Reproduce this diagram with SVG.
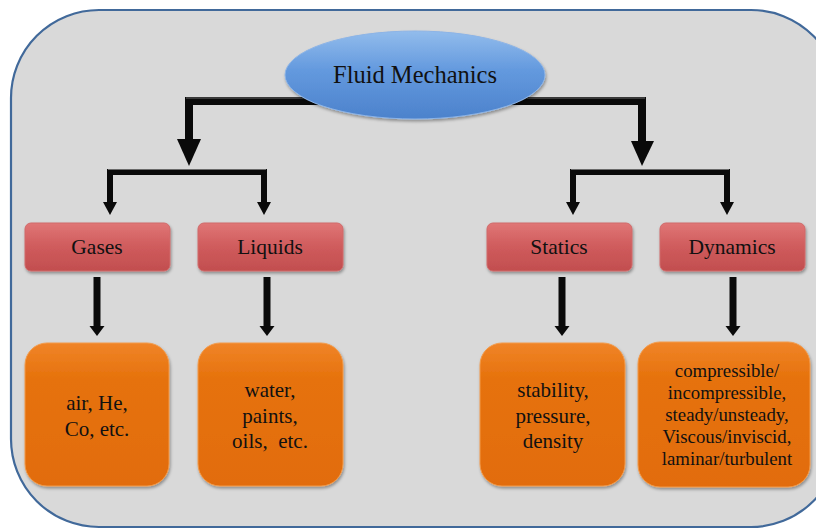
<svg xmlns="http://www.w3.org/2000/svg" width="816" height="530" viewBox="0 0 816 530">
<defs>
<linearGradient id="gBlue" x1="0" y1="0" x2="0" y2="1">
<stop offset="0" stop-color="#92bcec"/>
<stop offset="0.45" stop-color="#6399de"/>
<stop offset="1" stop-color="#4c82cc"/>
</linearGradient>
<linearGradient id="gRed" x1="0" y1="0" x2="0" y2="1">
<stop offset="0" stop-color="#e07676"/>
<stop offset="0.5" stop-color="#cf5b5c"/>
<stop offset="1" stop-color="#c24e4f"/>
</linearGradient>
<linearGradient id="gOrange" x1="0" y1="0" x2="0" y2="1">
<stop offset="0" stop-color="#f08428"/>
<stop offset="0.25" stop-color="#e6720c"/>
<stop offset="1" stop-color="#e26c0a"/>
</linearGradient>
<filter id="shadow" x="-10%" y="-10%" width="120%" height="130%">
<feDropShadow dx="1" dy="2" stdDeviation="1.5" flood-color="#000" flood-opacity="0.35"/>
</filter>
</defs>
<style>
.lbl{font-family:"Liberation Serif","Times New Roman",serif;fill:#111;text-anchor:middle;white-space:pre}
.red{fill:url(#gRed);stroke:#d06a6a;stroke-width:1;filter:url(#shadow)}
.org{fill:url(#gOrange);stroke:#f29a4a;stroke-width:1;filter:url(#shadow)}
.ln{fill:none;stroke:#0a0a0a;stroke-linejoin:miter}
.hl{fill:none;stroke:#6a6a6a;stroke-width:1.2}
.hd{fill:#0a0a0a}
</style>
<rect x="11" y="10" width="828" height="517" rx="88" ry="88" fill="#d9d9d9" stroke="#41699a" stroke-width="2.2"/>

<g id="connectors">
<path class="ln" stroke-width="8" d="M189,142 V101 H642 V144"/>
<path class="hl" d="M186,98 H645"/>
<polygon class="hd" points="177,139 201,139 189,166"/>
<polygon class="hd" points="631,141 654,141 642,166"/>
<path class="ln" stroke-width="6" d="M110,204 V172 H264 V204"/>
<path class="hl" d="M108,169.5 H266"/>
<path class="ln" stroke-width="6" d="M573,204 V172 H727 V204"/>
<path class="hl" d="M571,169.5 H729"/>
<polygon class="hd" points="103,202 117,202 110,215"/>
<polygon class="hd" points="257,202 271,202 264,215"/>
<polygon class="hd" points="566,202 580,202 573,215"/>
<polygon class="hd" points="720,202 734,202 727,215"/>
<path class="ln" stroke-width="7" d="M97,277 V329"/>
<path class="ln" stroke-width="7" d="M267,277 V329"/>
<path class="ln" stroke-width="7" d="M562,277 V329"/>
<path class="ln" stroke-width="7" d="M733,277 V329"/>
<polygon class="hd" points="89.5,326 104.5,326 97,336"/>
<polygon class="hd" points="259.5,326 274.5,326 267,336"/>
<polygon class="hd" points="554.5,326 569.5,326 562,336"/>
<polygon class="hd" points="725.5,326 740.5,326 733,336"/>
</g>

<g id="fluid-mechanics">
<ellipse cx="415" cy="75" rx="130" ry="44" fill="url(#gBlue)" stroke="#8db4e6" stroke-width="1" filter="url(#shadow)"/>
<text class="lbl" x="415" y="83" font-size="24.5">Fluid Mechanics</text>
</g>

<g id="gases">
<rect class="red" x="25" y="223" width="145" height="48" rx="6"/>
<text class="lbl" x="97" y="254" font-size="21.5">Gases</text>
</g>
<g id="liquids">
<rect class="red" x="198" y="223" width="145" height="48" rx="6"/>
<text class="lbl" x="270" y="254" font-size="21.5">Liquids</text>
</g>
<g id="statics">
<rect class="red" x="487" y="223" width="145" height="48" rx="6"/>
<text class="lbl" x="559" y="254" font-size="21.5">Statics</text>
</g>
<g id="dynamics">
<rect class="red" x="660" y="223" width="145" height="48" rx="6"/>
<text class="lbl" x="732" y="254" font-size="21.5">Dynamics</text>
</g>

<g id="gases-examples">
<rect class="org" x="25" y="343" width="144" height="143" rx="22"/>
<text class="lbl" x="97" y="410" font-size="21">air, He,</text>
<text class="lbl" x="97" y="436" font-size="21">Co, etc.</text>
</g>
<g id="liquids-examples">
<rect class="org" x="198" y="343" width="145" height="143" rx="22"/>
<text class="lbl" x="270" y="397" font-size="21">water,</text>
<text class="lbl" x="270" y="423" font-size="21">paints,</text>
<text class="lbl" x="270" y="448" font-size="21">oils,  etc.</text>
</g>
<g id="statics-examples">
<rect class="org" x="480" y="343" width="145" height="143" rx="22"/>
<text class="lbl" x="553" y="397" font-size="21">stability,</text>
<text class="lbl" x="553" y="423" font-size="21">pressure,</text>
<text class="lbl" x="553" y="448" font-size="21">density</text>
</g>
<g id="dynamics-examples">
<rect class="org" x="638" y="342" width="172" height="145" rx="22"/>
<text class="lbl" x="727" y="377" font-size="18.8">compressible/</text>
<text class="lbl" x="727" y="399" font-size="18.8">incompressible,</text>
<text class="lbl" x="727" y="421" font-size="18.8">steady/unsteady,</text>
<text class="lbl" x="727" y="443" font-size="18.8">Viscous/inviscid,</text>
<text class="lbl" x="727" y="465" font-size="18.8">laminar/turbulent</text>
</g>
</svg>
